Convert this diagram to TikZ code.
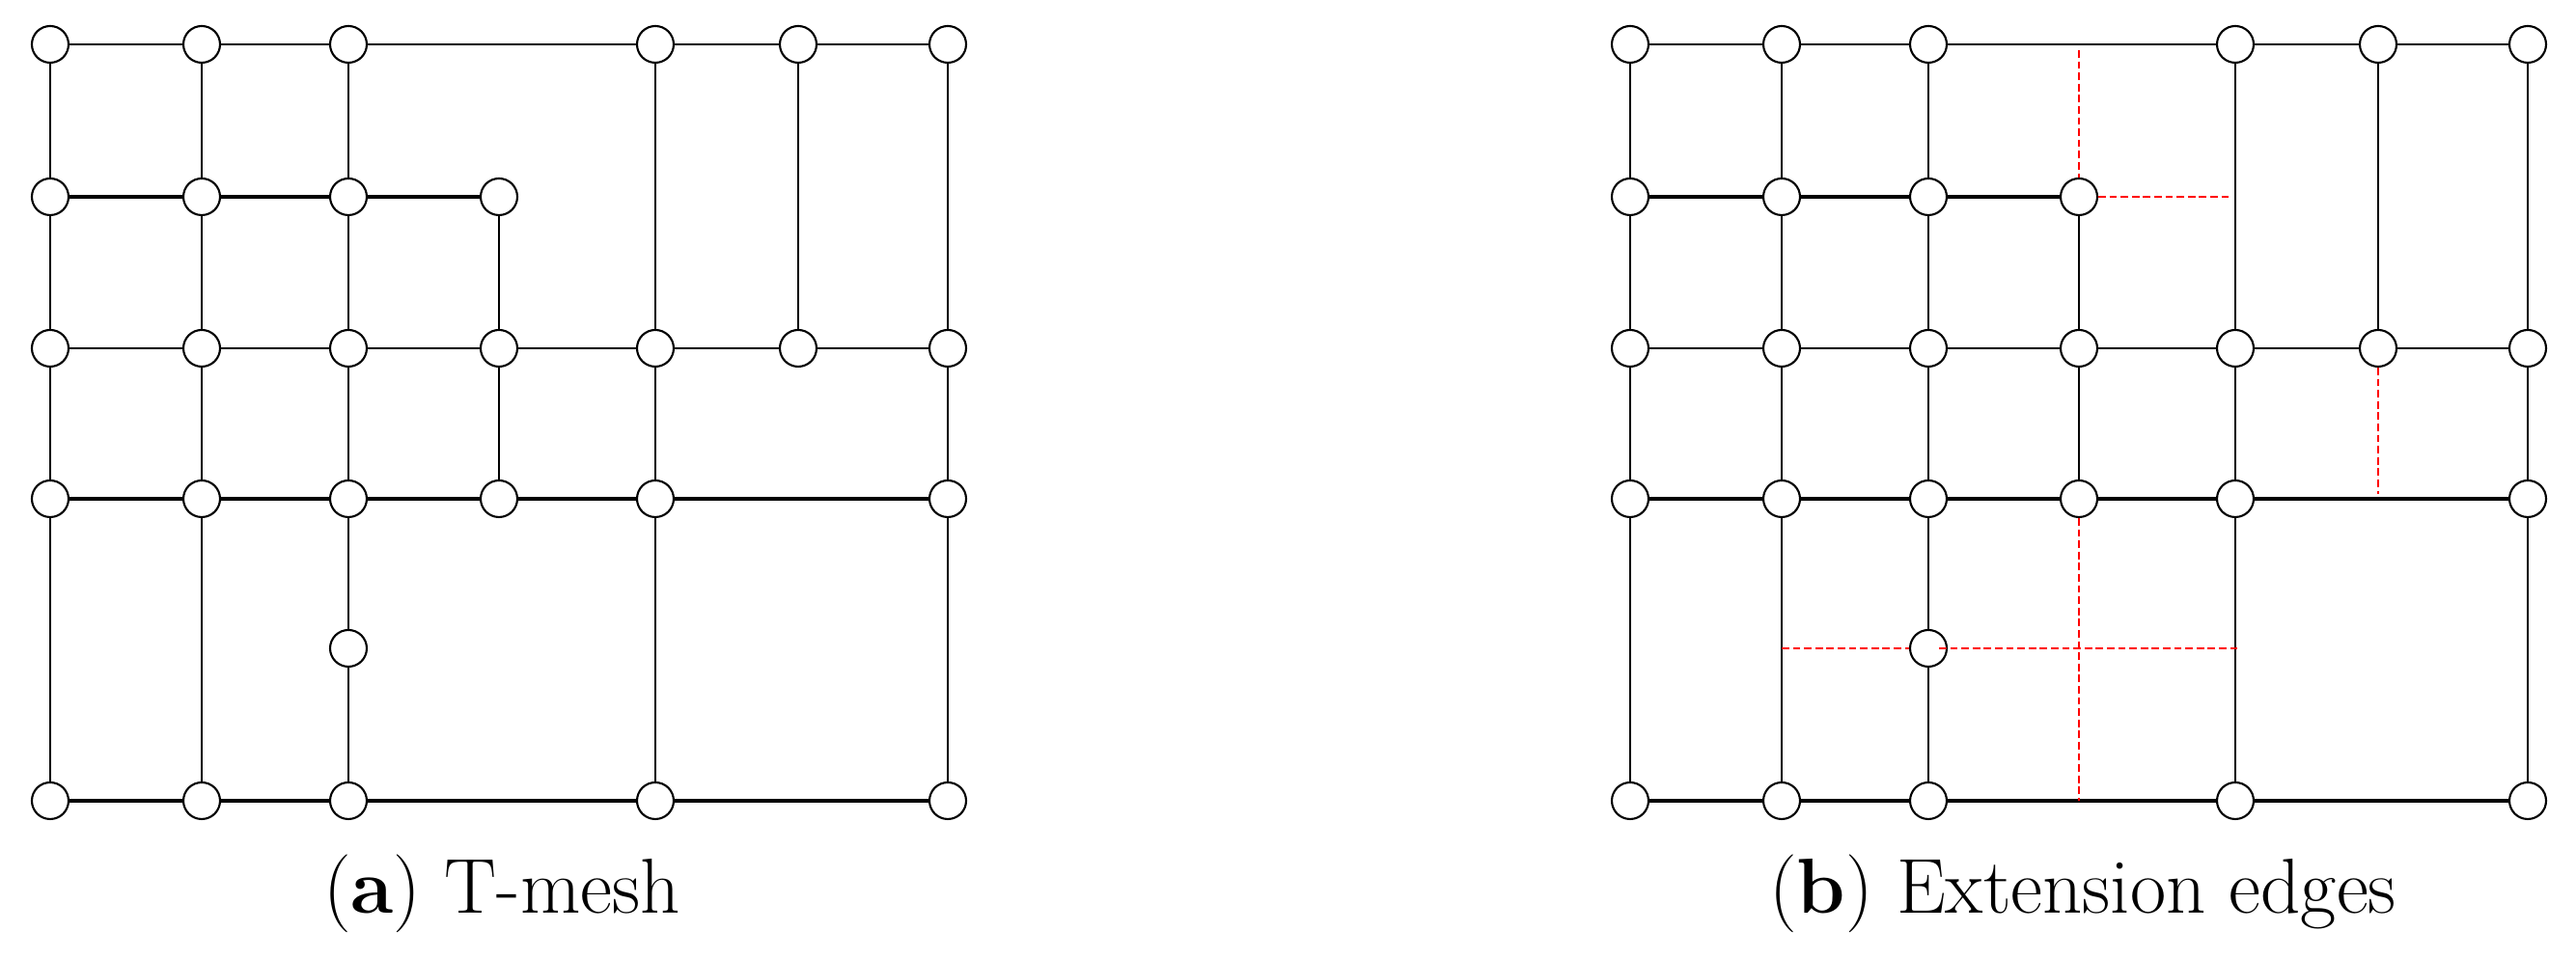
\documentclass[tikz,border=0pt]{standalone}
\usepackage{tikz}

\begin{document}
\begin{tikzpicture}
\useasboundingbox (0,0) rectangle (26.69,9.94);
\tikzset{
  knot/.style={circle,draw=black,line width=0.6pt,fill=white,inner sep=0pt,minimum size=0.38cm},
  thinedge/.style={line width=0.3pt},
  midedge/.style={line width=0.5pt},
  thickedge/.style={line width=0.9pt},
  extedge/.style={red,line width=0.4pt,dash pattern=on 2.2pt off 1.1pt}
}
\foreach \p/\sh in {a/0,b/16.37}
{
  \foreach \c/\r in {1/1,2/1,3/1,5/1,6/1,7/1,1/2,2/2,3/2,4/2,1/3,2/3,3/3,4/3,5/3,6/3,7/3,1/4,2/4,3/4,4/4,5/4,7/4,3/5,1/6,2/6,3/6,5/6,7/6}
  {
    \pgfmathsetmacro{\x}{{0.52,2.09,3.61,5.17,6.79,8.27,9.82}[\c-1]+\sh}
    \pgfmathsetmacro{\y}{{9.48,7.90,6.33,4.77,3.22,1.64}[\r-1]}
    \node[knot] (\p\c\r) at (\x,\y) {};
  }
}
% (a) horizontal lines
\draw[thinedge] (a11) -- (a21) -- (a31) -- (a51) -- (a61) -- (a71);
\draw[thickedge] (a12) -- (a22) -- (a32) -- (a42);
\draw[thinedge] (a13) -- (a23) -- (a33) -- (a43) -- (a53) -- (a63) -- (a73);
\draw[thickedge] (a14) -- (a24) -- (a34) -- (a44) -- (a54) -- (a74);
\draw[thickedge] (a16) -- (a26) -- (a36) -- (a56) -- (a76);
% (a) vertical lines
\draw[thinedge] (a11) -- (a12) -- (a13) -- (a14) -- (a16);
\draw[thinedge] (a21) -- (a22) -- (a23) -- (a24) -- (a26);
\draw[thinedge] (a31) -- (a32) -- (a33) -- (a34) -- (a35) -- (a36);
\draw[thinedge] (a42) -- (a43) -- (a44);
\draw[midedge] (a51) -- (a53) -- (a54) -- (a56);
\draw[thinedge] (a61) -- (a63);
\draw[midedge] (a71) -- (a73) -- (a74) -- (a76);
% (b) horizontal lines
\draw[thinedge] (b11) -- (b21) -- (b31) -- (b51) -- (b61) -- (b71);
\draw[thickedge] (b12) -- (b22) -- (b32) -- (b42);
\draw[thinedge] (b13) -- (b23) -- (b33) -- (b43) -- (b53) -- (b63) -- (b73);
\draw[thickedge] (b14) -- (b24) -- (b34) -- (b44) -- (b54) -- (b74);
\draw[thickedge] (b16) -- (b26) -- (b36) -- (b56) -- (b76);
% (b) vertical lines
\draw[thinedge] (b11) -- (b12) -- (b13) -- (b14) -- (b16);
\draw[midedge] (b21) -- (b22) -- (b23) -- (b24) -- (b26);
\draw[midedge] (b31) -- (b32) -- (b33) -- (b34) -- (b35) -- (b36);
\draw[midedge] (b42) -- (b43) -- (b44);
\draw[midedge] (b51) -- (b53) -- (b54) -- (b56);
\draw[midedge] (b61) -- (b63);
\draw[midedge] (b71) -- (b73) -- (b74) -- (b76);
% (b) extension edges
\coordinate (b41) at (b42 |- b31);
\coordinate (b52) at (b53 |- b42);
\coordinate (b64) at (b63 |- b74);
\coordinate (b46) at (b44 |- b36);
\coordinate (b25) at (b24 |- b35);
\coordinate (b55) at (b54 |- b35);
\draw[extedge,shorten <=0.06cm] (b41) -- (b42);
\draw[extedge,shorten >=0.07cm] (b42) -- (b52);
\draw[extedge,shorten >=0.05cm] (b63) -- (b64);
\draw[extedge] (b44) -- (b46);
\draw[extedge,shorten <=-0.09cm,shorten >=-0.03cm] (b25) -- (b35) -- (b55);
% captions
\node[anchor=base,font=\fontsize{23}{27}\selectfont] (capa) at (5.20,0.47) {(\textbf{a}) T-mesh};
\node[anchor=base,font=\fontsize{23}{27}\selectfont] (capb) at (21.58,0.47) {(\textbf{b}) Extension edges};
\end{tikzpicture}
\end{document}
